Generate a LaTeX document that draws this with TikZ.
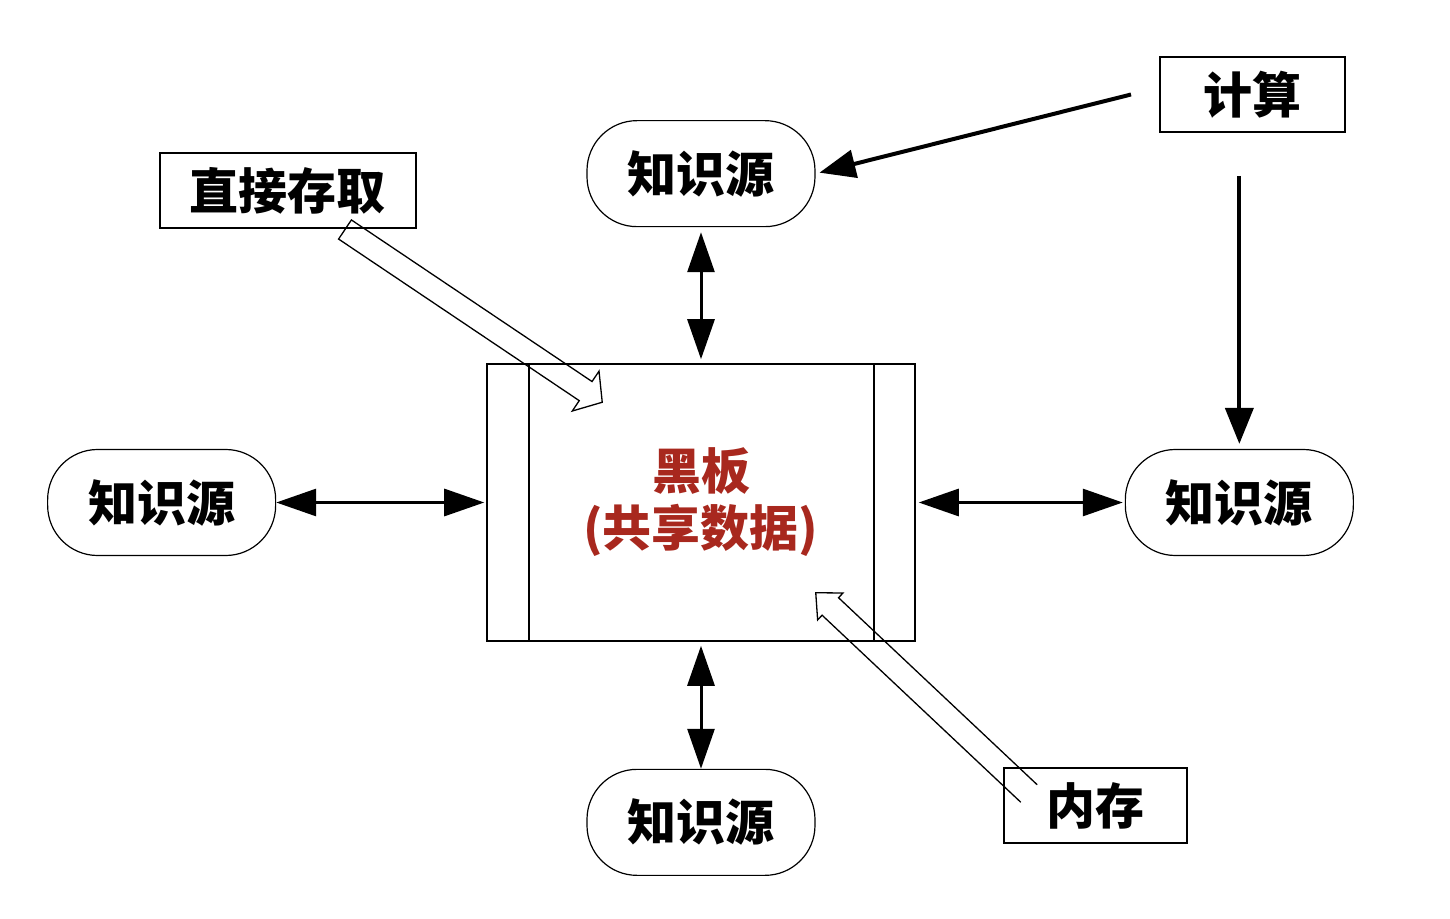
\documentclass[tikz,border=0pt]{standalone}
\usepackage{fontspec}
\usetikzlibrary{arrows.meta,positioning,calc}
\newfontfamily\cjk{Noto Sans CJK SC}
\definecolor{boardred}{HTML}{A8281E}
\tikzset{ksrc/.style={draw,line width=1.2pt,rounded corners=50pt,minimum width=228pt,
  minimum height=106pt,font=\cjk\bfseries\fontsize{49pt}{58pt}\selectfont,inner sep=0pt},
  labelbox/.style={draw,line width=2pt,minimum height=75pt,
  font=\cjk\bfseries\fontsize{49pt}{58pt}\selectfont,inner sep=0pt},
  dblarrow/.style={{Triangle[length=40pt,width=27pt]}-{Triangle[length=40pt,width=27pt]},line width=3pt},
  calcarrow/.style={-{Triangle[length=36pt,width=28pt]},line width=4pt},
  hollow/.style={draw,line width=1.3pt,line join=miter}}
% hollow block arrow: tail, tip, shaft half width, barb half width, head length, end of path
\newcommand{\fatarrow}[6]{%
  \coordinate (neck) at ($(#2)!#5!(#1)$);
  \draw[hollow] ($(#1)!#3!90:(#2)$) -- ($(neck)!#3!90:(#2)$) -- ($(neck)!#4!90:(#2)$) -- (#2)
    -- ($(neck)!#4!-90:(#2)$) -- ($(neck)!#3!-90:(#2)$) -- ($(#1)!#3!-90:(#2)$) #6;}

\begin{document}
\begin{tikzpicture}
\useasboundingbox (-701pt,-415.5pt) rectangle (749pt,502.5pt);
\node[draw,line width=1.5pt,minimum width=428pt,minimum height=277pt,align=center,
  text=boardred,font=\cjk\bfseries\fontsize{49pt}{57pt}\selectfont] (board) {黑板\\(共享数据)};
\draw[line width=1.5pt] ([xshift=43pt]board.north west) -- ([xshift=43pt]board.south west);
\draw[line width=1.5pt] ([xshift=-42pt]board.north east) -- ([xshift=-42pt]board.south east);
\node[ksrc,above=136pt of board] (topks) {知识源};
\node[ksrc,below=127pt of board] (bottomks) {知识源};
\node[ksrc,left=210pt of board] (leftks) {知识源};
\node[ksrc,right=209pt of board] (rightks) {知识源};
\node[labelbox,minimum width=185pt] (calc) at (551.5pt,408pt) {计算};
\node[labelbox,minimum width=256pt] (direct) at (-413pt,311.5pt) {直接存取};
\node[labelbox,minimum width=183pt] (memory) at (394.5pt,-303pt) {内存};
\draw[dblarrow,shorten <=5pt,shorten >=4pt] (topks) -- (board);
\draw[dblarrow,shorten <=4pt] (board) -- (bottomks);
\draw[dblarrow,shorten >=2pt] (leftks) -- (board);
\draw[dblarrow,shorten <=3pt,shorten >=2pt] (board) -- (rightks);
\draw[calcarrow,shorten >=4pt] ([xshift=-28pt]calc.west) -- (topks.east);
\draw[calcarrow,shorten >=5pt] ($(calc.south -| rightks.north)+(0,-43pt)$) -- (rightks.north);
% access arrows
\coordinate (dtail) at ([xshift=57pt]direct.south);
\coordinate (dtip) at ([xshift=116pt,yshift=-39pt]board.north west);
\coordinate (mtail) at ([xshift=26pt,yshift=-26.5pt]memory.north west);
\coordinate (mtip) at ([xshift=-100pt,yshift=49pt]board.south east);
\fatarrow{dtail}{dtip}{11.5pt}{24pt}{20pt}{-- cycle}
\fatarrow{mtail}{mtip}{12pt}{18.5pt}{20pt}{}
\end{tikzpicture}
\end{document}
